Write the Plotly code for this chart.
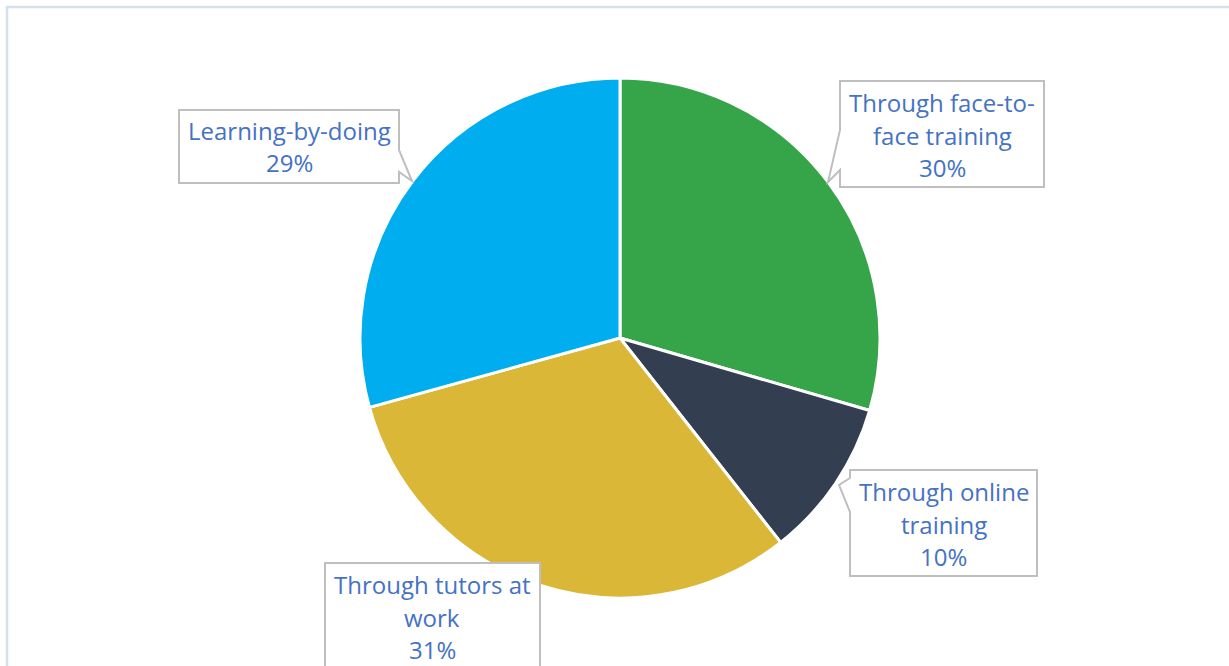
import math
import plotly.graph_objects as go

W, H = 1229, 666

# data (clockwise from 12 o'clock)
labels = [
    "Through face-to-face training",
    "Through online training",
    "Through tutors at work",
    "Learning-by-doing",
]
values = [29.5, 9.9, 31.3, 29.3]
colors = ["#36A54A", "#333F50", "#DBB737", "#00AEEF"]
label_lines = [
    ["Through face-to-", "face training"],
    ["Through online", "training"],
    ["Through tutors at", "work"],
    ["Learning-by-doing"],
]

# callout layout in pixels: box (x0, y0, x1, y1), side with tail, tail (base1, tip, base2)
callouts = [
    dict(box=(840, 81, 1044, 187), side="left", tail=((840, 130), (828, 182), (840, 170))),
    dict(box=(850, 470, 1037, 576), side="left", tail=((850, 478), (839, 485), (850, 512))),
    dict(box=(325, 563, 540, 672), side=None, tail=None),
    dict(box=(179, 110, 399, 183), side="right", tail=((399, 150), (412, 181), (399, 172))),
]

TEXT_COLOR = "#4472C4"
FONT = "Open Sans"
LINE_H = 32.5


def px(x, y):
    return x / W, 1 - y / H


def callout_path(box, side, tail):
    x0, y0, x1, y1 = box
    if side == "left":
        b1, tip, b2 = tail
        pts = [(x0, y0), (x1, y0), (x1, y1), (x0, y1), b2, tip, b1]
    elif side == "right":
        b1, tip, b2 = tail
        pts = [(x0, y0), (x1, y0), b1, tip, b2, (x1, y1), (x0, y1)]
    else:
        pts = [(x0, y0), (x1, y0), (x1, y1), (x0, y1)]
    pp = [px(*p) for p in pts]
    return "M " + " L ".join(f"{a:.5f},{b:.5f}" for a, b in pp) + " Z"


fig = go.Figure()
fig.add_trace(
    go.Pie(
        labels=labels,
        values=values,
        sort=False,
        direction="clockwise",
        rotation=0,
        marker=dict(colors=colors, line=dict(color="white", width=3)),
        textinfo="none",
        hoverinfo="label+percent",
        domain=dict(x=[360 / W, 880 / W], y=[1 - 598 / H, 1 - 78 / H]),
        showlegend=False,
    )
)

shapes = [
    # outer frame of the chart area
    dict(
        type="rect", xref="paper", yref="paper",
        x0=7 / W, y0=1 - 700 / H, x1=1250 / W, y1=1 - 7 / H,
        line=dict(color="#D6E0EF", width=2.5), fillcolor="rgba(0,0,0,0)", layer="below",
    )
]
annotations = []
total = sum(values)
for lab_lines, val, c in zip(label_lines, values, callouts):
    shapes.append(
        dict(
            type="path", xref="paper", yref="paper",
            path=callout_path(c["box"], c["side"], c["tail"]),
            line=dict(color="#BFBFBF", width=2), fillcolor="white", layer="above",
        )
    )
    pct = math.floor(val / total * 100 + 0.5)
    lines = lab_lines + [f"{pct}%"]
    x0, y0, x1, y1 = c["box"]
    cx = (x0 + x1) / 2
    if len(lines) == 2:
        cy = (y0 + y1) / 2
    else:
        cy = y0 + 54
    for i, t in enumerate(lines):
        yy = cy + (i - (len(lines) - 1) / 2) * LINE_H
        ax, ay = px(cx, yy)
        annotations.append(
            dict(
                text=t, x=ax, y=ay, xref="paper", yref="paper",
                xanchor="center", yanchor="middle", showarrow=False,
                font=dict(family=FONT, size=24, color=TEXT_COLOR),
            )
        )

fig.update_layout(
    width=W,
    height=H,
    margin=dict(l=0, r=0, t=0, b=0),
    paper_bgcolor="white",
    plot_bgcolor="white",
    shapes=shapes,
    annotations=annotations,
)

fig.write_html(
    "out.html",
    config={"displayModeBar": False},
    post_script="document.body.style.margin='0';document.body.style.overflow='hidden';",
)
